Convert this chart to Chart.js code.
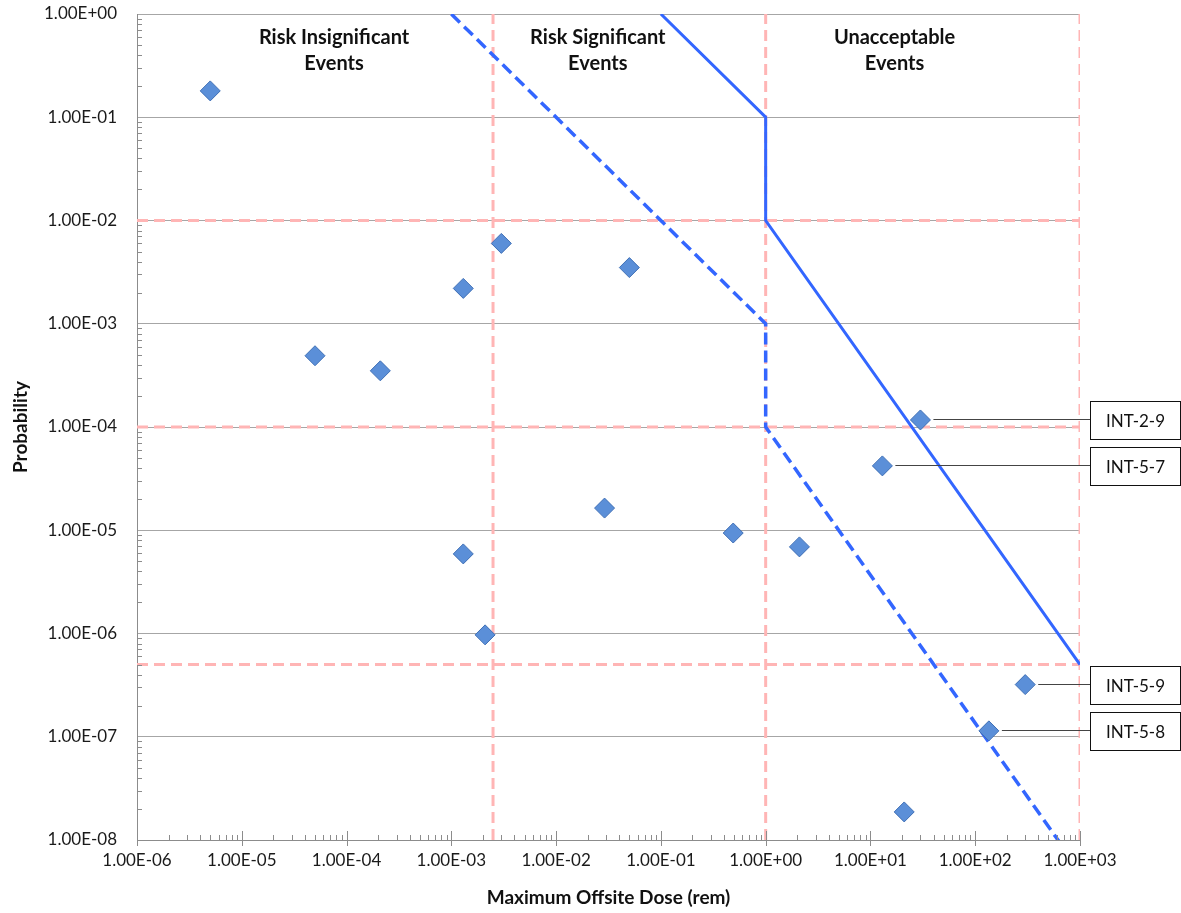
<!DOCTYPE html>
<html>
<head>
<meta charset="utf-8">
<script src="https://cdn.jsdelivr.net/npm/chart.js@4.4.0/dist/chart.umd.min.js"></script>
<style>
  html, body { margin: 0; padding: 0; background: #fff; }
</style>
</head>
<body>
<canvas id="myChart" width="1181" height="913"></canvas>
<script>
// events: max offsite dose (rem) and probability
var doseValues = [5e-6, 3e-3, 0.05, 1.3e-3, 5e-5, 2.1e-4, 30, 13, 0.029, 0.49, 2.1, 1.3e-3, 2.1e-3, 300, 135, 21]
var probValues = [0.18, 6e-3, 3.5e-3, 2.2e-3, 4.9e-4, 3.5e-4, 1.17e-4, 4.2e-5, 1.64e-5, 9.4e-6, 6.9e-6, 5.9e-6, 9.7e-7, 3.2e-7, 1.14e-7, 1.87e-8]

// labelled events (index into the arrays above)
var calloutNames = ['INT-2-9', 'INT-5-7', 'INT-5-9', 'INT-5-8']
var calloutIndex = [6, 7, 13, 14]

// upper boundary (solid) and lower boundary (dashed)
var solidDose = [0.1, 1, 1, 1000]
var solidProb = [1, 0.1, 0.01, 5e-7]
var dashDose = [1e-3, 1, 1, 1000]
var dashProb = [1, 1e-3, 1e-4, 5e-9]

// pink limit lines
var limitDose = [2.5e-3, 1, 1000]
var limitProb = [1e-2, 1e-4, 5e-7]

// region captions
var regionNames = [['Risk Insignificant', 'Events'], ['Risk Significant', 'Events'], ['Unacceptable', 'Events']]
var regionDose = [7.6e-5, 0.025, 17]

var xTicks = [1e-6, 1e-5, 1e-4, 1e-3, 1e-2, 1e-1, 1e0, 1e1, 1e2, 1e3]
var yTicks = [1e-8, 1e-7, 1e-6, 1e-5, 1e-4, 1e-3, 1e-2, 1e-1, 1e0]

var FONT = 'Lato'

function sci(v){
    var e = Math.round(Math.log10(v))
    var m = v / Math.pow(10, e)
    return m.toFixed(2) + 'E' + (e < 0 ? '-' : '+') + String(Math.abs(e)).padStart(2, '0')
}

function pts(xs, ys){
    var out = []
    for (var i = 0; i < xs.length; i++) out.push({x: xs[i], y: ys[i]})
    return out
}

var datasets = []

// pink limits, drawn behind everything
for (var i = 0; i < limitDose.length; i++){
    datasets.push({
        data: [{x: limitDose[i], y: yTicks[0]}, {x: limitDose[i], y: yTicks[yTicks.length - 1]}],
        showLine: true, borderColor: '#ffb5b5', borderWidth: 3, borderDash: [11, 6],
        pointRadius: 0, order: 5
    })
}
for (var i = 0; i < limitProb.length; i++){
    datasets.push({
        data: [{x: xTicks[0], y: limitProb[i]}, {x: xTicks[xTicks.length - 1], y: limitProb[i]}],
        showLine: true, borderColor: '#ffb5b5', borderWidth: 3, borderDash: [11, 6],
        pointRadius: 0, order: 5
    })
}

datasets.push({
    data: pts(solidDose, solidProb),
    showLine: true, borderColor: '#3366ff', borderWidth: 3,
    pointRadius: 0, order: 3
})
datasets.push({
    data: pts(dashDose, dashProb),
    showLine: true, borderColor: '#3366ff', borderWidth: 3.5, borderDash: [12, 6],
    pointRadius: 0, order: 3
})
datasets.push({
    data: pts(doseValues, probValues),
    pointStyle: 'rectRot', pointRadius: 10,
    backgroundColor: '#5b8fd8', borderColor: '#3f6fb5', borderWidth: 1,
    order: 1
})

// minor ticks (inside) + major x ticks
var tickPlugin = {
    id: 'ticks',
    afterDatasetsDraw(chart){
        var ctx = chart.ctx, xs = chart.scales.x, ys = chart.scales.y, a = chart.chartArea
        ctx.save()
        ctx.strokeStyle = '#8c8c8c'
        ctx.lineWidth = 1
        ctx.beginPath()
        for (var k = 0; k < xTicks.length; k++){
            var px = Math.round(xs.getPixelForValue(xTicks[k])) + 0.5
            ctx.moveTo(px, a.bottom - 9); ctx.lineTo(px, a.bottom + 6)
            if (k == xTicks.length - 1) break
            for (var m = 2; m <= 9; m++){
                var p = Math.round(xs.getPixelForValue(m * xTicks[k])) + 0.5
                ctx.moveTo(p, a.bottom - 5); ctx.lineTo(p, a.bottom)
            }
        }
        for (var k = 0; k < yTicks.length - 1; k++){
            for (var m = 2; m <= 9; m++){
                var py = Math.round(ys.getPixelForValue(m * yTicks[k])) + 0.5
                ctx.moveTo(a.left, py); ctx.lineTo(a.left + 5, py)
            }
        }
        ctx.stroke()
        ctx.restore()
    }
}

var labelPlugin = {
    id: 'labels',
    afterDraw(chart){
        var ctx = chart.ctx, xs = chart.scales.x, ys = chart.scales.y, a = chart.chartArea
        ctx.save()
        ctx.fillStyle = '#111'
        ctx.textAlign = 'center'
        ctx.textBaseline = 'middle'
        ctx.font = 'bold 20px ' + FONT
        for (var i = 0; i < regionNames.length; i++){
            var cx = xs.getPixelForValue(regionDose[i])
            ctx.fillText(regionNames[i][0], cx, a.top + 24)
            ctx.fillText(regionNames[i][1], cx, a.top + 50)
        }
        ctx.font = '17px ' + FONT
        ctx.lineWidth = 1
        for (var i = 0; i < calloutNames.length; i++){
            var j = calloutIndex[i]
            var px = xs.getPixelForValue(doseValues[j])
            var py = Math.round(ys.getPixelForValue(probValues[j])) + 0.5
            var bx = a.right + 10.5, bw = 90, bh = 38
            ctx.strokeStyle = '#444'
            ctx.beginPath()
            ctx.moveTo(px + 13, py - 1); ctx.lineTo(bx, py - 1)
            ctx.stroke()
            ctx.strokeStyle = '#111'
            ctx.fillStyle = '#fff'
            ctx.fillRect(bx, py - bh / 2, bw, bh)
            ctx.strokeRect(bx, py - bh / 2, bw, bh)
            ctx.fillStyle = '#111'
            ctx.fillText(calloutNames[i], bx + bw / 2, py + 1)
        }
        ctx.restore()
    }
}

new Chart("myChart", {
    type: "scatter",
    data: { datasets: datasets },
    options: {
        responsive: false,
        animation: false,
        layout: { padding: { left: 0, right: 101, top: 14, bottom: 0 } },
        plugins: { legend: { display: false }, tooltip: { enabled: false } },
        scales: {
            x: {
                type: 'logarithmic', min: 1e-6, max: 1e3,
                afterBuildTicks: function(s){ s.ticks = xTicks.map(function(v){ return {value: v} }) },
                afterFit: function(s){ s.height = 73 },
                grid: { display: false, drawTicks: false },
                border: { display: true, color: '#8c8c8c', width: 1 },
                ticks: {
                    callback: function(v){ return sci(v) },
                    font: { family: FONT, size: 17 }, color: '#1a1a1a',
                    padding: 10, maxRotation: 0, autoSkip: false
                },
                title: {
                    display: true, text: 'Maximum Offsite Dose (rem)',
                    font: { family: FONT, size: 19, weight: 'bold' }, color: '#111',
                    padding: { top: 0, bottom: 4 }
                }
            },
            y: {
                type: 'logarithmic', min: 1e-8, max: 1,
                afterBuildTicks: function(s){ s.ticks = yTicks.map(function(v){ return {value: v} }) },
                afterFit: function(s){ s.width = 137 },
                grid: { color: '#a6a6a6', lineWidth: 1, drawTicks: true, tickLength: 20, tickColor: 'rgba(0,0,0,0)' },
                border: { display: true, color: '#8c8c8c', width: 1 },
                ticks: {
                    callback: function(v){ return sci(v) },
                    font: { family: FONT, size: 17 }, color: '#1a1a1a',
                    padding: 0, autoSkip: false
                },
                title: {
                    display: true, text: 'Probability',
                    font: { family: FONT, size: 19, weight: 'bold' }, color: '#111',
                    padding: { top: 9, bottom: 0 }
                }
            }
        }
    },
    plugins: [tickPlugin, labelPlugin]
})
</script>
</body>
</html>
